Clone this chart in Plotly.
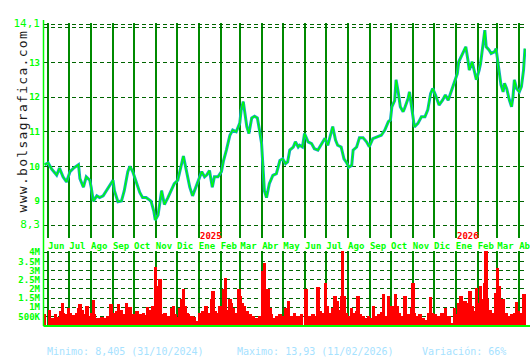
import plotly.graph_objects as go

# ---------------- data ----------------
price_dates = [
    "2024-05-27", "2024-06-01", "2024-06-06", "2024-06-13", "2024-06-17", "2024-06-22", "2024-06-27",
    "2024-07-02", "2024-07-07", "2024-07-11", "2024-07-14", "2024-07-16", "2024-07-21", "2024-07-25",
    "2024-07-30", "2024-08-01", "2024-08-04", "2024-08-09", "2024-08-13", "2024-08-18", "2024-08-23",
    "2024-08-27", "2024-09-01", "2024-09-03", "2024-09-08", "2024-09-13", "2024-09-17", "2024-09-22",
    "2024-09-25", "2024-09-29", "2024-10-04", "2024-10-09", "2024-10-13", "2024-10-18", "2024-10-25",
    "2024-10-29", "2024-10-31", "2024-11-04", "2024-11-09", "2024-11-13", "2024-11-18", "2024-11-23",
    "2024-11-27", "2024-12-02", "2024-12-07", "2024-12-10", "2024-12-14", "2024-12-19", "2024-12-23",
    "2024-12-26", "2024-12-31", "2025-01-05", "2025-01-09", "2025-01-12", "2025-01-16", "2025-01-20",
    "2025-01-23", "2025-01-28", "2025-02-02", "2025-02-05", "2025-02-09", "2025-02-14", "2025-02-18",
    "2025-02-23", "2025-02-28", "2025-03-02", "2025-03-05", "2025-03-07", "2025-03-10", "2025-03-13",
    "2025-03-17", "2025-03-21", "2025-03-25", "2025-03-28", "2025-03-31", "2025-04-02", "2025-04-04",
    "2025-04-07", "2025-04-11", "2025-04-16", "2025-04-21", "2025-04-26", "2025-04-30", "2025-05-04",
    "2025-05-07", "2025-05-10", "2025-05-15", "2025-05-18", "2025-05-22", "2025-05-24", "2025-05-28",
    "2025-05-31", "2025-06-05", "2025-06-10", "2025-06-14", "2025-06-19", "2025-06-24", "2025-06-29",
    "2025-07-03", "2025-07-08", "2025-07-10", "2025-07-14", "2025-07-17", "2025-07-22", "2025-07-26",
    "2025-07-29", "2025-08-02", "2025-08-06", "2025-08-08", "2025-08-13", "2025-08-17", "2025-08-22",
    "2025-08-27", "2025-08-31", "2025-09-05", "2025-09-12", "2025-09-17", "2025-09-22", "2025-09-27",
    "2025-09-30", "2025-10-02", "2025-10-06", "2025-10-08", "2025-10-11", "2025-10-14", "2025-10-18",
    "2025-10-20", "2025-10-25", "2025-10-27", "2025-10-30", "2025-11-01", "2025-11-03", "2025-11-08",
    "2025-11-13", "2025-11-18", "2025-11-22", "2025-11-26", "2025-11-29", "2025-12-03", "2025-12-08",
    "2025-12-13", "2025-12-17", "2025-12-21", "2025-12-25", "2025-12-30", "2026-01-03", "2026-01-05",
    "2026-01-09", "2026-01-12", "2026-01-15", "2026-01-18", "2026-01-20", "2026-01-24", "2026-01-28",
    "2026-01-30", "2026-02-03", "2026-02-05", "2026-02-08", "2026-02-11", "2026-02-13", "2026-02-17",
    "2026-02-20", "2026-02-25", "2026-02-27", "2026-03-02", "2026-03-04", "2026-03-06", "2026-03-09",
    "2026-03-11", "2026-03-14", "2026-03-16", "2026-03-18", "2026-03-21", "2026-03-23", "2026-03-25",
    "2026-03-28", "2026-04-01", "2026-04-04", "2026-04-07", "2026-04-09",
]
price_close = [
    10.05, 10.10, 9.92, 9.75, 9.95, 9.70, 9.55,
    9.85, 9.95, 10.00, 10.05, 9.65, 9.40, 9.70,
    9.60, 9.40, 9.00, 9.15, 9.10, 9.15, 9.30,
    9.45, 9.60, 9.30, 8.98, 9.00, 9.30, 9.85,
    10.00, 9.85, 9.55, 9.25, 9.10, 9.10, 9.00,
    8.70, 8.45, 8.60, 9.30, 8.90, 9.10, 9.30,
    9.50, 9.60, 10.05, 10.30, 9.90, 9.40, 9.15,
    9.30, 9.60, 9.85, 9.70, 9.75, 9.88, 9.40,
    9.70, 9.70, 9.85, 10.17, 10.47, 10.90, 11.05,
    11.00, 11.25, 11.63, 11.87, 11.63, 11.15, 10.95,
    11.40, 11.45, 11.40, 11.05, 10.66, 9.98, 9.30,
    9.10, 9.50, 9.74, 9.79, 10.17, 10.22, 10.08,
    10.13, 10.47, 10.56, 10.71, 10.56, 10.61, 10.56,
    10.95, 10.71, 10.66, 10.51, 10.47, 10.66, 10.81,
    10.61, 11.05, 11.15, 10.76, 10.61, 10.56, 10.22,
    10.13, 9.98, 10.03, 10.47, 10.56, 10.83, 10.83,
    10.71, 10.57, 10.80, 10.86, 10.90, 11.05, 11.29,
    11.34, 11.72, 11.90, 12.50, 12.15, 11.72, 11.58,
    11.67, 11.96, 12.15, 11.72, 11.34, 11.14, 11.24,
    11.43, 11.43, 11.63, 12.10, 12.25, 12.06, 11.77,
    11.91, 12.06, 11.91, 12.15, 12.44, 12.68, 13.02,
    13.21, 13.31, 13.45, 13.07, 12.78, 13.02, 12.68,
    12.50, 12.78, 12.97, 13.45, 13.93, 13.45, 13.36,
    13.26, 13.31, 13.40, 12.88, 12.54, 12.35, 12.15,
    12.40, 12.25, 12.06, 11.91, 11.72, 12.00, 12.50,
    12.25, 12.15, 12.30, 12.78, 13.40,
]

volume_dates = [
    "2024-05-27", "2024-06-03", "2024-06-06", "2024-06-11", "2024-06-15", "2024-06-19", "2024-06-21",
    "2024-06-23", "2024-06-27", "2024-06-30", "2024-07-02", "2024-07-07", "2024-07-11", "2024-07-14",
    "2024-07-16", "2024-07-19", "2024-07-23", "2024-07-26", "2024-07-28", "2024-07-30", "2024-08-02",
    "2024-08-04", "2024-08-06", "2024-08-11", "2024-08-16", "2024-08-21", "2024-08-25", "2024-08-29",
    "2024-09-01", "2024-09-06", "2024-09-09", "2024-09-11", "2024-09-13", "2024-09-18", "2024-09-20",
    "2024-09-23", "2024-09-25", "2024-09-30", "2024-10-05", "2024-10-09", "2024-10-14", "2024-10-16",
    "2024-10-20", "2024-10-24", "2024-10-26", "2024-10-28", "2024-10-31", "2024-11-01", "2024-11-03",
    "2024-11-04", "2024-11-07", "2024-11-09", "2024-11-14", "2024-11-19", "2024-11-23", "2024-11-26",
    "2024-11-28", "2024-11-30", "2024-12-05", "2024-12-08", "2024-12-10", "2024-12-12", "2024-12-15",
    "2024-12-17", "2024-12-22", "2024-12-26", "2024-12-29", "2025-01-02", "2025-01-07", "2025-01-11",
    "2025-01-14", "2025-01-19", "2025-01-21", "2025-01-24", "2025-01-26", "2025-01-31", "2025-02-02",
    "2025-02-05", "2025-02-08", "2025-02-10", "2025-02-14", "2025-02-16", "2025-02-19", "2025-02-24",
    "2025-02-27", "2025-03-01", "2025-03-04", "2025-03-07", "2025-03-10", "2025-03-15", "2025-03-19",
    "2025-03-24", "2025-03-29", "2025-04-02", "2025-04-04", "2025-04-07", "2025-04-09", "2025-04-12",
    "2025-04-14", "2025-04-19", "2025-04-21", "2025-04-26", "2025-04-28", "2025-04-30", "2025-05-04",
    "2025-05-08", "2025-05-12", "2025-05-17", "2025-05-22", "2025-05-27", "2025-06-02", "2025-06-03",
    "2025-06-08", "2025-06-12", "2025-06-17", "2025-06-19", "2025-06-22", "2025-06-26", "2025-06-30",
    "2025-07-02", "2025-07-06", "2025-07-10", "2025-07-13", "2025-07-16", "2025-07-19", "2025-07-23",
    "2025-07-24", "2025-07-26", "2025-07-29", "2025-08-01", "2025-08-06", "2025-08-09", "2025-08-13",
    "2025-08-15", "2025-08-18", "2025-08-22", "2025-08-25", "2025-08-30", "2025-09-04", "2025-09-06",
    "2025-09-08", "2025-09-13", "2025-09-18", "2025-09-20", "2025-09-23", "2025-09-27", "2025-09-30",
    "2025-10-02", "2025-10-07", "2025-10-09", "2025-10-12", "2025-10-16", "2025-10-21", "2025-10-26",
    "2025-10-30", "2025-11-01", "2025-11-03", "2025-11-07", "2025-11-11", "2025-11-16", "2025-11-21",
    "2025-11-23", "2025-11-26", "2025-11-29", "2025-12-03", "2025-12-07", "2025-12-12", "2025-12-17",
    "2025-12-22", "2025-12-25", "2025-12-30", "2026-01-02", "2026-01-05", "2026-01-08", "2026-01-11",
    "2026-01-14", "2026-01-18", "2026-01-21", "2026-01-24", "2026-01-28", "2026-01-30", "2026-02-01",
    "2026-02-05", "2026-02-07", "2026-02-09", "2026-02-11", "2026-02-13", "2026-02-15", "2026-02-19",
    "2026-02-23", "2026-02-27", "2026-03-01", "2026-03-03", "2026-03-06", "2026-03-09", "2026-03-13",
    "2026-03-17", "2026-03-21", "2026-03-26", "2026-03-28", "2026-03-31", "2026-04-04", "2026-04-08",
]
volume_millions = [
    0.64, 0.90, 0.45, 0.64, 0.50, 0.82, 1.24,
    0.73, 0.64, 1.00, 0.73, 0.60, 0.73, 1.00,
    1.18, 0.90, 0.64, 1.10, 0.55, 0.45, 0.73,
    1.40, 0.64, 0.45, 0.50, 0.45, 0.55, 1.18,
    0.73, 0.82, 1.18, 0.55, 0.90, 0.64, 1.28,
    0.73, 1.04, 0.64, 0.82, 0.64, 0.73, 0.58,
    1.06, 0.90, 0.64, 1.10, 3.23, 2.19, 1.18,
    2.10, 2.55, 0.64, 0.73, 0.55, 1.00, 1.10,
    0.64, 0.50, 1.00, 1.46, 2.00, 1.10, 0.73,
    0.64, 0.55, 0.50, 0.27, 0.73, 0.82, 1.10,
    0.73, 1.50, 1.92, 0.82, 0.73, 1.10, 0.64,
    2.00, 2.60, 0.90, 1.46, 1.28, 1.00, 0.73,
    2.00, 1.64, 1.28, 1.10, 0.82, 0.64, 0.55,
    0.45, 0.55, 3.00, 3.43, 1.73, 2.00, 1.00,
    0.64, 0.45, 0.55, 0.64, 0.45, 0.55, 1.00,
    1.37, 0.55, 0.73, 0.55, 0.64, 2.00, 0.73,
    0.55, 0.64, 0.55, 2.13, 0.82, 0.73, 2.34,
    1.10, 0.73, 1.00, 1.64, 1.37, 0.90, 1.64,
    4.10, 1.64, 0.73, 0.55, 1.00, 0.73, 0.82,
    1.64, 0.64, 0.55, 0.45, 0.55, 0.45, 1.10,
    0.55, 0.64, 0.77, 1.73, 0.55, 1.64, 0.73,
    1.10, 1.73, 1.10, 0.73, 0.55, 1.64, 0.64,
    1.00, 2.37, 0.73, 0.55, 0.64, 0.45, 0.33,
    0.73, 1.59, 0.73, 0.64, 0.55, 0.73, 1.00,
    0.55, 0.18, 1.00, 0.64, 1.24, 1.64, 1.10,
    1.37, 1.28, 1.92, 1.10, 0.82, 2.10, 1.28,
    2.19, 0.90, 1.46, 2.37, 4.10, 1.46, 0.90,
    0.73, 1.82, 3.19, 2.19, 1.10, 1.46, 0.73,
    0.55, 0.64, 0.73, 1.31, 0.82, 0.73, 1.73,
]

month_ticks = [
    "2024-06-01", "2024-07-01", "2024-08-01", "2024-09-01", "2024-10-01", "2024-11-01",
    "2024-12-01", "2025-01-01", "2025-02-01", "2025-03-01", "2025-04-01", "2025-05-01",
    "2025-06-01", "2025-07-01", "2025-08-01", "2025-09-01", "2025-10-01", "2025-11-01",
    "2025-12-01", "2026-01-01", "2026-02-01", "2026-03-01", "2026-04-01",
]
month_labels = [
    "Jun", "Jul", "Ago", "Sep", "Oct", "Nov", "Dic", "Ene", "Feb", "Mar", "Abr", "May",
    "Jun", "Jul", "Ago", "Sep", "Oct", "Nov", "Dic", "Ene", "Feb", "Mar", "Abr",
]
year_marks = ["2025-01-01", "2026-01-01"]
year_labels = ["2025", "2026"]

price_ticks = [8.3, 9, 10, 11, 12, 13, 14, 14.1]
price_tick_labels = [
    "<span style='font-size:11px'>8,3</span>", "<b>9</b>", "<b>10</b>", "<b>11</b>",
    "<b>12</b>", "<b>13</b>", "", "<span style='font-size:11px'>14,1</span>",
]
volume_ticks = [0.5, 1, 1.5, 2, 2.5, 3, 3.5, 4]
volume_tick_labels = ["500K", "1M", "1.5M", "2M", "2.5M", "3M", "3.5M", "4M"]

min_value, min_date = "8,405", "31/10/2024"
max_value, max_date = "13,93", "11/02/2026"
variation = "66%"
site = "www.bolsagrafica.com"

# ---------------- styling ----------------
W, H = 530, 360
MONO = "DejaVu Sans Mono"
LIME = "#00ff00"
VGRID = "#008a00"
HGRID = "#006400"
TEXT_BLUE = "#a6e2ff"

x_dom = [44 / W, 526 / W]
x_range = ["2024-05-26", "2026-04-10 12:00"]

fig = go.Figure()

fig.add_trace(go.Bar(
    x=volume_dates, y=volume_millions, xaxis="x2", yaxis="y2",
    marker=dict(color="#ff0000", line=dict(width=0)),
    width=5 * 86400000, hoverinfo="skip",
))
fig.add_trace(go.Scatter(
    x=price_dates, y=price_close, mode="lines",
    line=dict(color="#10a8c0", width=3), hoverinfo="skip",
))
fig.add_trace(go.Scatter(
    x=price_dates, y=price_close, mode="lines",
    line=dict(color=LIME, width=1.3), hoverinfo="skip",
))

common_x = dict(
    type="date", domain=x_dom, range=x_range, automargin=False,
    tickvals=month_ticks, showgrid=True, gridcolor=VGRID, gridwidth=2,
    zeroline=False, showline=False, ticks="",
)
fig.update_layout(
    width=W, height=H,
    margin=dict(l=0, r=0, t=0, b=0, autoexpand=False),
    paper_bgcolor="white", plot_bgcolor="white",
    showlegend=False, bargap=0,
    xaxis=dict(
        **common_x, anchor="y", ticktext=month_labels,
        tickfont=dict(family=MONO, size=9, color=LIME, weight="bold"),
        ticklabelshift=8, ticklabelstandoff=1, ticklabeloverflow="allow",
    ),
    xaxis2=dict(**common_x, anchor="y2", matches="x", showticklabels=False),
    yaxis=dict(
        domain=[(H - 238) / H, (H - 23.3) / H], range=[7.934, 14.13], automargin=False,
        tickvals=price_ticks, ticktext=price_tick_labels,
        showgrid=True, gridcolor=HGRID, gridwidth=1.2, griddash="4px,3px",
        zeroline=False, showline=False, ticks="", ticklabelstandoff=3,
        tickfont=dict(family=MONO, size=9, color=LIME),
    ),
    yaxis2=dict(
        domain=[(H - 325.5) / H, (H - 250.5) / H], range=[0, 4.1], automargin=False,
        tickvals=volume_ticks, ticktext=volume_tick_labels,
        showgrid=True, gridcolor=HGRID, gridwidth=1.2, griddash="4px,3px",
        zeroline=False, showline=False, ticks="", ticklabelstandoff=3,
        tickfont=dict(family=MONO, size=9, color=LIME, weight="bold"),
    ),
)

# axis frame lines (left vertical + bottom horizontal)
fig.add_shape(type="line", xref="paper", yref="paper",
              x0=43.5 / W, x1=43.5 / W, y0=(H - 326) / H, y1=(H - 20) / H,
              line=dict(color=LIME, width=1.5))
fig.add_shape(type="line", xref="paper", yref="paper",
              x0=43.5 / W, x1=1, y0=(H - 326) / H, y1=(H - 326) / H,
              line=dict(color=LIME, width=2))

# year labels under the January grid lines
for d, t in zip(year_marks, year_labels):
    fig.add_annotation(x=d, y=7.99, xref="x", yref="y", text=t, showarrow=False,
                       xanchor="left", yanchor="middle", xshift=-1,
                       font=dict(family=MONO, size=9, color="#ff0000", weight="bold"))

# vertical site watermark
fig.add_annotation(x=12 / W, y=(H - 121) / H, xref="paper", yref="paper",
                   text="<span style='letter-spacing:1.3px'>" + site + "</span>",
                   textangle=-90, showarrow=False,
                   font=dict(family=MONO, size=13, color="#1a1a1a"))

# bottom statistics
stats = [
    (45, f"Minimo: {min_value} ({min_date})"),
    (235, f"Maximo: {max_value} ({max_date})"),
    (420, f"Variación: {variation}"),
]
for xpx, txt in stats:
    fig.add_annotation(x=xpx / W, y=(H - 351) / H, xref="paper", yref="paper",
                       text=txt, showarrow=False, xanchor="left", yanchor="middle",
                       font=dict(family=MONO, size=10, color=TEXT_BLUE))

fig.write_html("out.html")
